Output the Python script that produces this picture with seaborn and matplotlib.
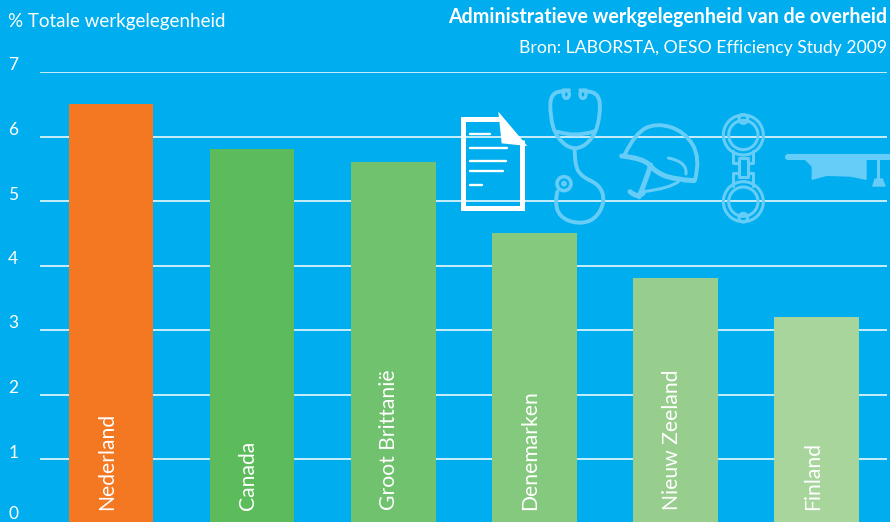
import matplotlib
matplotlib.use("Agg")
import matplotlib.pyplot as plt
import matplotlib.transforms as mtrans
from matplotlib.path import Path
from matplotlib.patches import PathPatch, Circle, Polygon
import numpy as np
import pandas as pd
import seaborn as sns

# -------------------------
# 1. Data
# -------------------------
countries = ["Nederland", "Canada", "Groot Brittanië", "Denemarken", "Nieuw Zeeland", "Finland"]
values = [6.5, 5.8, 5.6, 4.5, 3.8, 3.2]
bar_colors = ["#F47721", "#5CBB5A", "#70C26E", "#84C97D", "#98CE8D", "#A7D59C"]
y_ticks = [0, 1, 2, 3, 4, 5, 6, 7]

BG = "#00AEEF"
ICON = "#66CDF8"
FONT = ["Lato", "DejaVu Sans"]

# -------------------------
# 2. Figure + bars
# -------------------------
sns.set_theme(style="white")
plt.rcParams["font.family"] = FONT

W, H = 890, 522
fig = plt.figure(figsize=(W / 100, H / 100), dpi=100, facecolor=BG)
ax = fig.add_axes([40.3 / W, -1.5 / H, 847 / W, 451.5 / H], facecolor=BG)

df = pd.DataFrame({"land": countries, "waarde": values})
sns.barplot(data=df, x="land", y="waarde", hue="land", palette=bar_colors,
            width=0.6, saturation=1, legend=False, ax=ax, zorder=3, linewidth=0)

ax.set_xlim(-0.5, 5.5)
ax.set_ylim(0, 7)
ax.set_xlabel("")
ax.set_ylabel("")
ax.set_xticks([])
sns.despine(ax=ax, left=True, bottom=True)
ax.set_yticks(y_ticks)
ax.set_yticklabels([str(t) for t in y_ticks], ha="center", color="white", fontsize=12.5)
ax.tick_params(axis="y", length=0, pad=19.5)
for t, lab in zip(y_ticks, ax.get_yticklabels()):
    dy = 11 if t == 0 else 8  # the 0 sits right on the bottom edge
    lab.set_transform(lab.get_transform() + mtrans.ScaledTranslation(0, dy / 100, fig.dpi_scale_trans))
ax.yaxis.grid(True, color="white", lw=1.1, zorder=1)
ax.set_axisbelow(True)

# labels sit a little left of the bar centre
label_shift = mtrans.ScaledTranslation(-4 / 100, 0, fig.dpi_scale_trans)
for i, name in enumerate(countries):
    ax.text(i, 0.21, name, rotation=90, ha="center", va="bottom", color="white",
            fontsize=15.2, zorder=5, transform=ax.transData + label_shift)

# -------------------------
# 3. Header text
# -------------------------
fig.text(8 / W, 1 - 21 / H, "% Totale werkgelegenheid", color="white", fontsize=13.5,
         ha="left", va="center")
fig.text(887 / W, 1 - 17 / H, "Administratieve werkgelegenheid van de overheid", color="white",
         fontsize=14.1, fontweight="bold", ha="right", va="center")
fig.text(887 / W, 1 - 48 / H, "Bron: LABORSTA, OESO Efficiency Study 2009", color="white",
         fontsize=12.7, ha="right", va="center")

# -------------------------
# 4. Icons (overlay in pixel coords)
# -------------------------
ov = fig.add_axes([0, 0, 1, 1], facecolor="none")
ov.set_xlim(0, W)
ov.set_ylim(H, 0)
ov.axis("off")


def zp(pts):
    # zoom crop coords -> figure pixels
    a = np.array(pts, dtype=float)
    return a / 3 + np.array([440, 80])


def curve(pts, lw=2.8, color=ICON):
    a = zp(pts)
    # quadratic spline through the midpoints, keeps the strokes round
    verts = [a[0]]
    codes = [Path.MOVETO]
    for k in range(1, len(a) - 1):
        mid = (a[k] + a[k + 1]) / 2 if k < len(a) - 2 else a[k + 1]
        verts += [a[k], mid]
        codes += [Path.CURVE3, Path.CURVE3]
    if len(a) == 2:
        verts.append(a[1])
        codes.append(Path.LINETO)
    ov.add_patch(PathPatch(Path(verts, codes), fc="none", ec=color, lw=lw,
                           capstyle="round", joinstyle="round", zorder=6))


def poly(pts, lw=2.8, color=ICON, closed=False):
    ov.add_patch(Polygon(zp(pts), closed=closed, fc="none", ec=color, lw=lw,
                         joinstyle="round", capstyle="round", zorder=6))


def ring(x, y, r, lw=2.8, color=ICON):
    c = zp([(x, y)])[0]
    ov.add_patch(Circle(c, r / 3, fc="none", ec=color, lw=lw, zorder=6))


def solid(pts, color=ICON):
    ov.add_patch(Polygon(zp(pts), closed=True, fc=color, ec="none", zorder=6))


# document
ov.add_patch(Polygon(zp([(245, 180), (245, 385), (69, 385), (69, 117), (182, 117)]), closed=False,
                     fc="none", ec="white", lw=3.6, joinstyle="miter", zorder=7))
solid([(175, 95), (262, 198), (185, 190)], "white")
for yy, x2 in [(163, 150), (203, 200), (242, 197), (274, 188), (314, 125)]:
    curve([(90, yy), (x2, yy)], lw=1.7, color="white")

# stethoscope
curve([(368, 34), (332, 34), (330, 110), (350, 175), (405, 215), (462, 175), (482, 100), (476, 34), (438, 34)])
curve([(352, 155), (405, 172), (460, 155)])
curve([(404, 205), (404, 255), (425, 290), (480, 315), (495, 365), (465, 420), (410, 432), (358, 410), (345, 365), (352, 335)])
ring(372, 311, 21, lw=2.6)
ring(372, 311, 5, lw=1.8)
curve([(370, 30), (388, 30), (388, 55), (370, 55), (370, 30), (388, 30)], lw=2.4)
curve([(420, 30), (438, 30), (438, 55), (420, 55), (420, 30), (438, 30)], lw=2.4)

# helmet
curve([(555, 222), (585, 160), (650, 128), (735, 155), (782, 235), (765, 300)])
curve([(545, 228), (612, 235), (645, 275), (700, 298), (762, 302)], lw=3.6)
curve([(632, 255), (615, 310), (597, 350)], lw=3.6)
curve([(570, 335), (595, 357), (610, 338)], lw=3.6)
curve([(610, 335), (690, 325), (715, 305)], lw=2.2)
curve([(685, 234), (742, 245), (738, 282)], lw=2.2)

# handcuffs
for cy, sgn in [(165, 1), (365, -1)]:
    ring(910, cy, 44, lw=2.2)
    ring(910, cy, 60, lw=2.2)
    ring(910, cy - sgn * 48, 13, lw=2.2)
    poly([(880, cy + sgn * 48), (880, cy + sgn * 85), (896, cy + sgn * 85)], lw=2.2)
    poly([(940, cy + sgn * 48), (940, cy + sgn * 85), (924, cy + sgn * 85)], lw=2.2)
poly([(897, 234), (923, 234), (923, 292), (897, 292)], lw=2.2, closed=True)

# graduation cap
curve([(1045, 230), (1348, 230)], lw=4.4)
solid([(1085, 230), (1280, 230), (1280, 300), (1230, 290), (1160, 288), (1115, 300), (1115, 260)])
curve([(1315, 230), (1315, 295)], lw=2.2)
solid([(1296, 320), (1304, 295), (1328, 295), (1338, 320)])

fig.savefig("out.png", dpi=100, facecolor=BG)
